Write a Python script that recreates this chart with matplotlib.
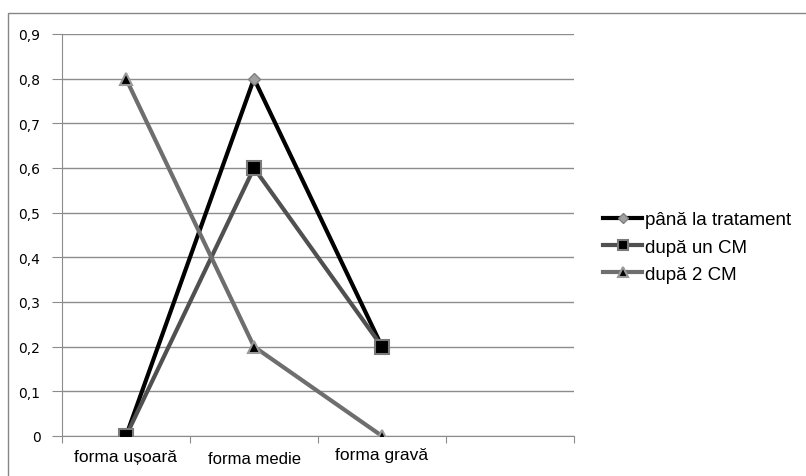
import numpy as np
import matplotlib.pyplot as plt
from matplotlib.patches import Rectangle

categories = ['forma ușoară', 'forma medie', 'forma gravă', '']
series_names = ['până la tratament', 'după un CM', 'după 2 CM']
pana_tratament = [0, 0.8, 0.2]
dupa_un_cm = [0, 0.6, 0.2]
dupa_2_cm = [0.8, 0.2, 0]
y_ticks = [0, 0.1, 0.2, 0.3, 0.4, 0.5, 0.6, 0.7, 0.8, 0.9]
y_labels = ['0', '0,1', '0,2', '0,3', '0,4', '0,5', '0,6', '0,7', '0,8', '0,9']

W, H = 806, 477
fig = plt.figure(figsize=(W / 100, H / 100), dpi=100)
fig.patches.append(Rectangle((8 / W, -0.1), 1.2, (H - 14) / H + 0.1, transform=fig.transFigure,
                             fill=False, edgecolor='#868686', lw=1.0))
ax = fig.add_axes([62 / W, (H - 437) / H, 512 / W, 402 / H])

x = np.arange(3)
ax.plot(x, pana_tratament, color='black', lw=3, marker='D', ms=6,
        mfc='#a0a0a0', mec='#808080', mew=1, label=series_names[0], zorder=3)
ax.plot(x, dupa_un_cm, color='#505050', lw=3, marker='s', ms=10,
        mfc='black', mec='#7a7a7a', mew=1.5, label=series_names[1], zorder=4)
ax.plot(x, dupa_2_cm, color='#6e6e6e', lw=3, marker='^', ms=9,
        mfc='black', mec='#9a9a9a', mew=1.5, label=series_names[2], zorder=5)

ax.set_xlim(-0.5, 3.5)
ax.set_ylim(0, 0.9)
ax.set_yticks(y_ticks)
ax.set_yticklabels(y_labels, fontsize=10, family='DejaVu Sans')
ax.yaxis.grid(True, color='#8c8c8c', lw=1)
ax.set_axisbelow(True)
ax.tick_params(axis='y', length=7, color='#8c8c8c', pad=8.5)

ax.set_xticks([-0.5, 0.5, 1.5, 2.5, 3.5])
ax.set_xticklabels([])
ax.set_xticks(np.arange(4), minor=True)
ax.set_xticklabels(categories, minor=True, fontsize=12.5, family='Liberation Sans')
ax.tick_params(axis='x', which='major', length=5, color='#8c8c8c')
ax.tick_params(axis='x', which='minor', length=0, pad=9.5)
for lbl in ax.get_xticklabels(minor=True):
    if lbl.get_text() == 'forma medie':
        lbl.set_fontsize(12)
        lbl.set_y(-0.004)
    if lbl.get_text() == 'forma gravă':
        lbl.set_y(0.006)

for s in ['top', 'right']:
    ax.spines[s].set_visible(False)
ax.spines['left'].set_color('#8c8c8c')
ax.spines['bottom'].set_color('#8c8c8c')

leg = ax.legend(loc='center left', bbox_to_anchor=(603 / W, (H - 248) / H), bbox_transform=fig.transFigure,
                frameon=False, prop={'family': 'Liberation Sans', 'size': 13.5},
                handlelength=2.1, handletextpad=0.12, labelspacing=0.55, borderaxespad=0,
                borderpad=0)
for h, ms in zip(leg.legend_handles, [5, 7, 7]):
    h.set_markersize(ms)

fig.savefig('out.png', dpi=100)
